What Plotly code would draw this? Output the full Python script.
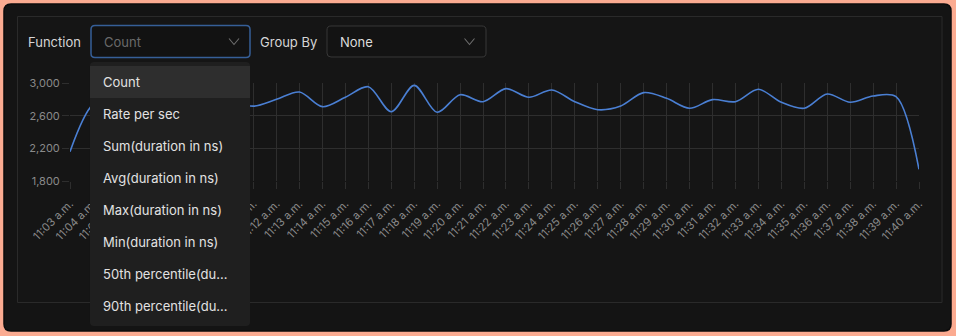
import plotly.graph_objects as go

W, H = 956, 336

times = ["11:%02d a.m." % m for m in range(3, 41)]
counts = [2160, 2740, 2840, 2760, 2900, 2700, 2850, 2780, 2720, 2803,
          2893, 2713, 2828, 2958, 2651, 2975, 2644, 2860, 2774, 2934,
          2828, 2918, 2774, 2676, 2721, 2885, 2816, 2693, 2799, 2774,
          2926, 2767, 2693, 2869, 2767, 2844, 2836, 1943]
y_ticks = [1800, 2200, 2600, 3000]
menu_items = ["Count", "Rate per sec", "Sum(duration in ns)", "Avg(duration in ns)",
              "Max(duration in ns)", "Min(duration in ns)", "50th percentile(du...",
              "90th percentile(du..."]

FONT = "Inter, Roboto, sans-serif"


def px(x):
    return x / W


def py(y):
    return 1 - y / H


def rrect(x0, y0, x1, y1, r):
    pts = [
        ("M", [(x0 + r, y0)]), ("L", [(x1 - r, y0)]), ("Q", [(x1, y0), (x1, y0 + r)]),
        ("L", [(x1, y1 - r)]), ("Q", [(x1, y1), (x1 - r, y1)]), ("L", [(x0 + r, y1)]),
        ("Q", [(x0, y1), (x0, y1 - r)]), ("L", [(x0, y0 + r)]), ("Q", [(x0, y0), (x0 + r, y0)]),
    ]
    s = ""
    for cmd, ps in pts:
        s += cmd + " " + " ".join("%.5f,%.5f" % (px(a), py(b)) for a, b in ps) + " "
    return s + "Z"


fig = go.Figure()
fig.add_trace(go.Scatter(
    x=times, y=counts, mode="lines",
    line=dict(color="#4a7fd3", width=1.6, shape="spline", smoothing=0.9),
    hoverinfo="skip", showlegend=False,
))

shapes = []
# dark window
shapes.append(dict(type="path", path=rrect(4, 4, 951, 331, 7), xref="paper", yref="paper",
                   fillcolor="#141414", line=dict(color="#0c0c0c", width=1.5), layer="below"))
# panel border
shapes.append(dict(type="rect", x0=px(17.5), x1=px(942), y0=py(302.5), y1=py(16.5),
                   xref="paper", yref="paper", fillcolor="#151515",
                   line=dict(color="#2a2a2a", width=1), layer="below"))
# select boxes
shapes.append(dict(type="path", path=rrect(91, 25.5, 250, 57.5, 4), xref="paper", yref="paper",
                   fillcolor="#121212", line=dict(color="#365f98", width=1.5), layer="below"))
shapes.append(dict(type="path", path=rrect(327, 26, 486, 57, 4), xref="paper", yref="paper",
                   fillcolor="#131313", line=dict(color="#383838", width=1), layer="below"))
# chevrons
for cx in (234, 469.5):
    shapes.append(dict(type="path",
                       path="M %.5f,%.5f L %.5f,%.5f L %.5f,%.5f" % (
                           px(cx - 5), py(38.5), px(cx), py(44.5), px(cx + 5), py(38.5)),
                       xref="paper", yref="paper", line=dict(color="#6e6e6e", width=1.1),
                       layer="below"))
# dropdown menu
shapes.append(dict(type="path", path=rrect(90, 62, 250, 326, 4), xref="paper", yref="paper",
                   fillcolor="#1f1f1f", line=dict(color="#1f1f1f", width=0), layer="above"))
shapes.append(dict(type="rect", x0=px(90), x1=px(250), y0=py(98), y1=py(66),
                   xref="paper", yref="paper", fillcolor="#2e2e2e",
                   line=dict(width=0), layer="above"))

annotations = []


def label(x, y, text, color, size=13):
    annotations.append(dict(x=px(x), y=py(y), xref="paper", yref="paper", text=text,
                            showarrow=False, xanchor="left", yanchor="middle",
                            font=dict(family=FONT, size=size, color=color)))


label(25.5, 42, "Function", "#d6d6d6")
label(102, 42, "Count", "#6a6a6a")
label(258, 42, "Group By", "#d6d6d6")
label(338, 42, "None", "#dcdcdc")
for i, t in enumerate(menu_items):
    label(101, 82 + 32 * i, t, "#e2e2e2")

fig.update_layout(
    width=W, height=H,
    margin=dict(l=0, r=0, t=0, b=0),
    paper_bgcolor="#fbab91",
    plot_bgcolor="rgba(0,0,0,0)",
    shapes=shapes,
    annotations=annotations,
    showlegend=False,
    xaxis=dict(
        domain=[px(70), px(919)], range=[0, len(times) - 1], type="category",
        showgrid=True, gridcolor="#2e2e2e", gridwidth=1, zeroline=False, showline=False,
        ticks="outside", ticklen=7, tickcolor="#2e2e2e", tickwidth=1,
        tickangle=-45, tickfont=dict(family=FONT, size=11, color="#8a8a8a"),
        ticklabelstandoff=4,
        automargin=False, fixedrange=True,
    ),
    yaxis=dict(
        domain=[py(181), py(83.3)], range=[1800, 3000],
        tickvals=y_ticks, tickformat=",d",
        showgrid=True, gridcolor="#2e2e2e", gridwidth=1, zeroline=False, showline=False,
        ticks="outside", ticklen=7, tickcolor="#2e2e2e", tickwidth=1,
        tickfont=dict(family=FONT, size=11, color="#8a8a8a"),
        automargin=False, fixedrange=True,
    ),
)

fig.write_html("out.html", config={"displayModeBar": False})
